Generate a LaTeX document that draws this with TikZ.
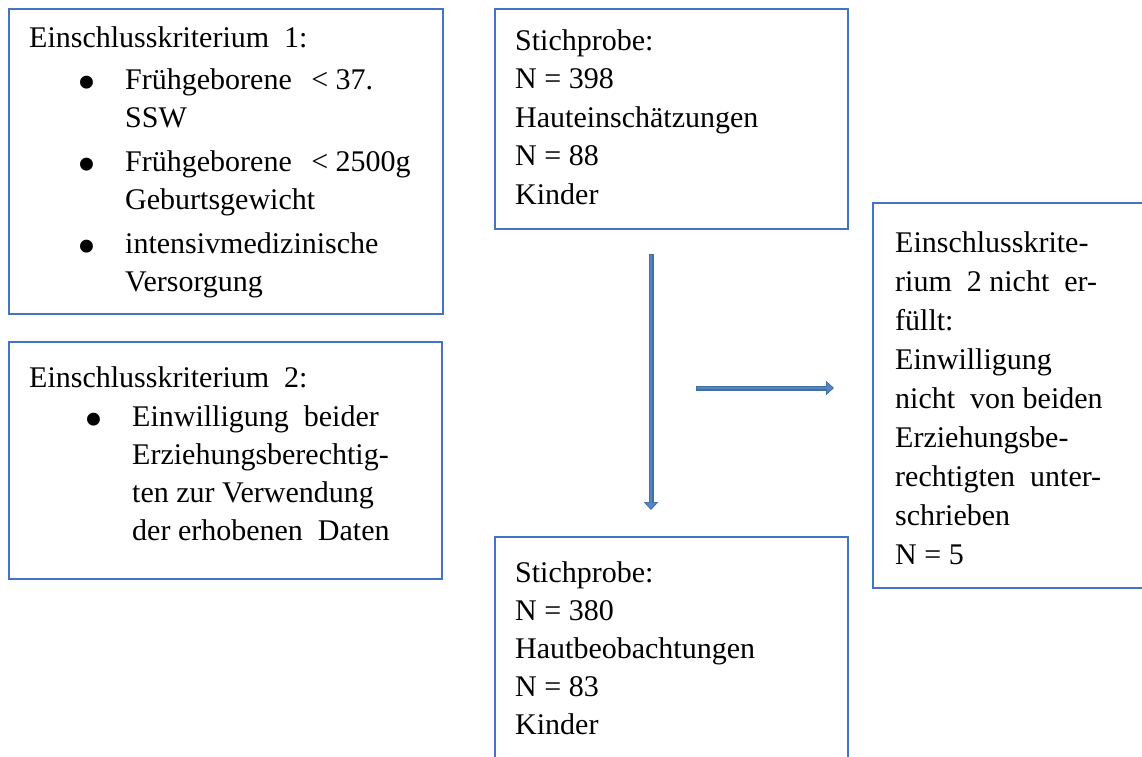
\documentclass[tikz,border=0pt]{standalone}
\usepackage{fontspec}
\setmainfont{Liberation Serif}
\usetikzlibrary{arrows.meta}

\definecolor{boxblue}{HTML}{4472C4}
\definecolor{arrowfill}{HTML}{5585C5}
\definecolor{arrowedge}{HTML}{41719C}

\newcommand{\critbullet}[1]{\hspace*{#1}\makebox[48pt][l]{\raisebox{-11pt}{\scalebox{1.8}{\textbullet}}}}

\tikzset{
  critbox/.style={draw=boxblue, line width=1.8pt, rectangle, inner sep=0pt},
  crittext/.style={anchor=north west, inner sep=0pt, align=left},
  arrowouter/.style={draw=arrowedge, line width=5pt, -{Triangle[length=8pt,width=14pt]}},
  arrowinner/.style={draw=arrowfill, line width=2.6pt, -{Triangle[length=5.5pt,width=10pt]},
    shorten >=1.6pt, shorten <=1.1pt}
}

\begin{document}
\begin{tikzpicture}[x=1pt, y=-1pt]

  \useasboundingbox (0,0) rectangle (1142,756);

  % -- Boxes --
  \node[critbox, minimum width=434pt, minimum height=305pt] (box1) at (226,161.5) {};
  \node[critbox, minimum width=433pt, minimum height=237pt] (box2) at (225.5,460.5) {};
  \node[critbox, minimum width=353pt, minimum height=220pt] (box3) at (671.5,119) {};
  \node[critbox, minimum width=353pt, minimum height=243pt] (box4) at (671.5,658.5) {};
  \node[critbox, minimum width=287pt, minimum height=385pt] (box5) at (1016.5,395.5) {};

  % -- Inclusion criteria --
  \node[crittext, font={\fontsize{30pt}{38pt}\selectfont}] (crit1) at (29,26)
    {Einschlusskriterium~~1:\\[4pt]
     \critbullet{48pt}Frühgeborene\hspace{12pt} < 37.\\
     \hspace*{96pt}SSW\\[6pt]
     \critbullet{48pt}Frühgeborene\hspace{12pt} < 2500g\\
     \hspace*{96pt}Geburtsgewicht\\[6pt]
     \critbullet{48pt}intensivmedizinische\\
     \hspace*{96pt}Versorgung};

  \node[crittext, font={\fontsize{30pt}{38pt}\selectfont}] (crit2) at (29,366)
    {Einschlusskriterium~~2:\\[1pt]
     \critbullet{55pt}Einwilligung~~beider\\
     \hspace*{103pt}Erziehungsberechtig-\\
     \hspace*{103pt}ten zur Verwendung\\
     \hspace*{103pt}der erhobenen~~Daten};

  % -- Samples --
  \node[crittext, font={\fontsize{30pt}{38.5pt}\selectfont}] (sample1) at (515,29)
    {Stichprobe:\\ N = 398\\ Hauteinschätzungen\\ N = 88\\ Kinder};

  \node[crittext, font={\fontsize{30pt}{38pt}\selectfont}] (sample2) at (515,561)
    {Stichprobe:\\ N = 380\\ Hautbeobachtungen\\ N = 83\\ Kinder};

  % -- Exclusion --
  \node[crittext, font={\fontsize{30pt}{39pt}\selectfont}] (excl) at (895,231)
    {Einschlusskrite-\\ rium~~2 nicht~~er-\\ füllt:\\ Einwilligung\\ nicht~~von beiden\\
     Erziehungsbe-\\ rechtigten~~unter-\\ schrieben\\ N = 5};

  % -- Arrows --
  \coordinate (vtop) at (651,254);
  \coordinate (vbot) at (651,510);
  \coordinate (hleft) at (696,388);
  \coordinate (hright) at (834,388);
  \draw[arrowouter] (vtop) -- (vbot);
  \draw[arrowinner] (vtop) -- (vbot);
  \draw[arrowouter] (hleft) -- (hright);
  \draw[arrowinner] (hleft) -- (hright);

\end{tikzpicture}
\end{document}
